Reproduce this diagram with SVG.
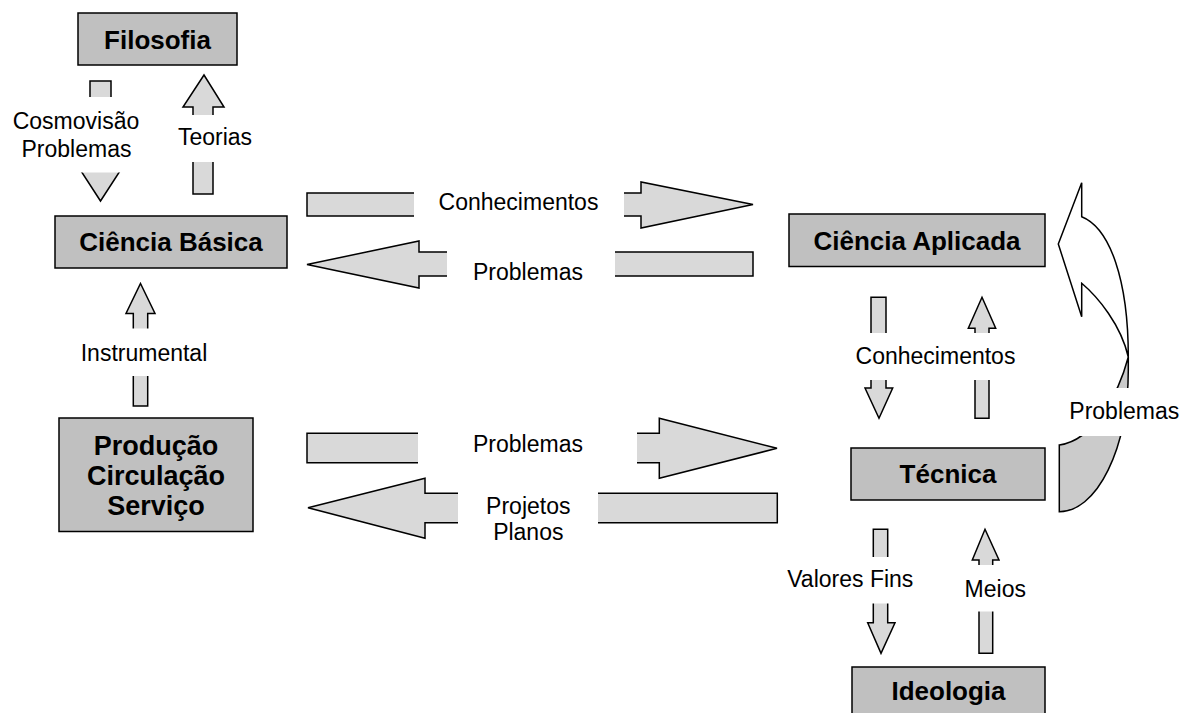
<svg xmlns="http://www.w3.org/2000/svg" width="1183" height="715" viewBox="0 0 1183 715">
  <style>
    .box { fill: #c0c0c0; stroke: #000; stroke-width: 1.5; }
    .arrow { fill: #d9d9d9; stroke: #000; stroke-width: 1.5; stroke-linejoin: miter; }
    .mask { fill: #fff; stroke: none; }
    .title { font-family: "Liberation Sans", Arial, sans-serif; font-weight: bold; font-size: 26px; fill: #000; text-anchor: middle; }
    .label { font-family: "Liberation Sans", Arial, sans-serif; font-size: 23px; fill: #000; text-anchor: middle; }
  </style>
  <rect width="1183" height="715" fill="#fff"/>

  <!-- nodes -->
  <g id="filosofia">
    <rect class="box" x="78" y="13" width="159" height="52"/>
    <text class="title" x="157.5" y="48.5">Filosofia</text>
  </g>
  <g id="ciencia-basica">
    <rect class="box" x="55" y="216" width="232" height="52"/>
    <text class="title" x="171" y="250.5">Ciência Básica</text>
  </g>
  <g id="ciencia-aplicada">
    <rect class="box" x="789" y="214" width="256" height="52.5"/>
    <text class="title" x="917" y="250">Ciência Aplicada</text>
  </g>
  <g id="producao">
    <rect class="box" x="59" y="418" width="194" height="113.5"/>
    <text class="title" x="156" y="454.5" style="font-size:27px">Produção</text>
    <text class="title" x="156" y="485" style="font-size:27px">Circulação</text>
    <text class="title" x="156" y="515" style="font-size:27px">Serviço</text>
  </g>
  <g id="tecnica">
    <rect class="box" x="851" y="448" width="194" height="52"/>
    <text class="title" x="948" y="482.5">Técnica</text>
  </g>
  <g id="ideologia">
    <rect x="852" y="667" width="193" height="46" fill="#c0c0c0"/>
    <path d="M852,713 V667 H1045 V713" fill="none" stroke="#000" stroke-width="1.5"/>
    <text class="title" x="948.5" y="700">Ideologia</text>
  </g>

  <!-- connectors: block arrows, labels sit on white panels over the shafts -->
  <g id="connectors">
    <!-- Filosofia -> Ciência Básica -->
    <polygon class="arrow" points="90,81 111,81 111,171 120,171 100.5,201 81,171 90,171"/>
    <!-- Ciência Básica -> Filosofia -->
    <polygon class="arrow" points="204,75 224,107 213,107 213,194 193,194 193,107 183,107"/>
    <!-- Ciência Básica -> Ciência Aplicada -->
    <polygon class="arrow" points="307,193 641,193 641,182 753,204.5 641,228 641,216 307,216"/>
    <!-- Ciência Aplicada -> Ciência Básica -->
    <polygon class="arrow" points="307,264.5 419,241 419,252 753,252 753,276 419,276 419,288"/>
    <!-- Produção -> Ciência Básica -->
    <polygon class="arrow" points="140.5,283.5 155,313.5 147.7,313.5 147.7,406 133.3,406 133.3,313.5 126,313.5"/>
    <!-- Produção -> Técnica -->
    <polygon class="arrow" points="307,433.3 659.3,433.3 659.3,418.3 777,448.3 659.3,478.3 659.3,462.7 307,462.7"/>
    <!-- Técnica -> Produção -->
    <polygon class="arrow" points="308,507.7 425,478.3 425,493.3 777.3,493.3 777.3,522.7 425,522.7 425,538.3"/>
    <!-- Ciência Aplicada -> Técnica -->
    <polygon class="arrow" points="871,297.3 886,297.3 886,388 892.7,388 879,418.3 865,388 871,388"/>
    <!-- Técnica -> Ciência Aplicada -->
    <polygon class="arrow" points="982,297.3 995.7,328.3 989,328.3 989,418.3 975,418.3 975,328.3 968.3,328.3"/>
    <!-- Técnica -> Ideologia -->
    <polygon class="arrow" points="873.3,529.3 887.7,529.3 887.7,622.7 895,622.7 881,653.3 867.7,622.7 873.3,622.7"/>
    <!-- Ideologia -> Técnica -->
    <polygon class="arrow" points="985,529.3 999,560 992.7,560 992.7,653.3 979,653.3 979,560 972.3,560"/>

    <!-- Técnica -> Ciência Aplicada, curved: rear band then front band with head -->
    <path d="M1128.3,357 C1119,392 1095,440 1059.3,445 L1059.3,511.7 A69,141.7 0 0 0 1128.3,370 Z"
          fill="#cbcbcb" stroke="#000" stroke-width="1.5" stroke-linejoin="miter"/>
    <path d="M1081.7,216.7 L1081.7,182.7 L1058.3,244 L1081.7,316.7 L1081.7,283.3 C1098,297 1121,325 1128.3,357 C1128.3,280 1110,228 1081.7,216.7 Z"
          fill="#fff" stroke="#000" stroke-width="1.5" stroke-linejoin="miter"/>

    <!-- white label panels -->
    <rect class="mask" x="5" y="97" width="145" height="75.5"/>
    <rect class="mask" x="160" y="115" width="100" height="47"/>
    <rect class="mask" x="414" y="186" width="210" height="37"/>
    <rect class="mask" x="447" y="246" width="168" height="36"/>
    <rect class="mask" x="70" y="328.5" width="150" height="47.5"/>
    <rect class="mask" x="418" y="426" width="219" height="44"/>
    <rect class="mask" x="458" y="487" width="140" height="60"/>
    <rect class="mask" x="845" y="333" width="180" height="47"/>
    <rect class="mask" x="1062" y="388" width="121" height="48"/>
    <rect class="mask" x="780" y="557" width="140" height="46.5"/>
    <rect class="mask" x="955" y="565" width="80" height="46.5"/>

    <!-- labels -->
    <text class="label" x="76" y="128.5">Cosmovisão</text>
    <text class="label" x="76.5" y="156.5">Problemas</text>
    <text class="label" x="215" y="145">Teorias</text>
    <text class="label" x="518.5" y="210">Conhecimentos</text>
    <text class="label" x="528" y="280">Problemas</text>
    <text class="label" x="144" y="361">Instrumental</text>
    <text class="label" x="528" y="451.5">Problemas</text>
    <text class="label" x="528.3" y="514">Projetos</text>
    <text class="label" x="528.3" y="540">Planos</text>
    <text class="label" x="935.5" y="364">Conhecimentos</text>
    <text class="label" x="1069.3" y="419.3" style="text-anchor:start">Problemas</text>
    <text class="label" x="850.3" y="586.7">Valores Fins</text>
    <text class="label" x="995.3" y="597.3">Meios</text>
  </g>
</svg>
